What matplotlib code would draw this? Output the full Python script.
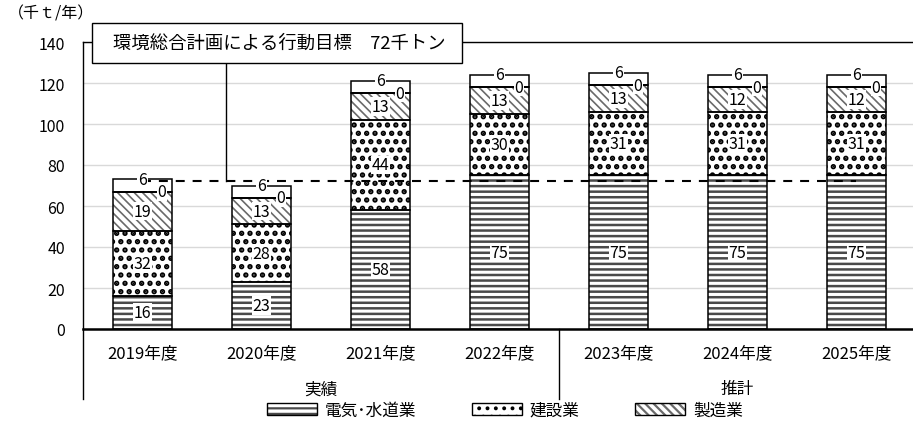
import matplotlib
matplotlib.use("Agg")
import matplotlib.pyplot as plt
from matplotlib.patches import Patch, Rectangle
from matplotlib.legend_handler import HandlerTuple
import numpy as np

plt.rcParams['font.family'] = ['Noto Sans CJK JP', 'DejaVu Sans']
plt.rcParams['hatch.linewidth'] = 1.6

# data (千t/年)
years = ["2019年度", "2020年度", "2021年度", "2022年度", "2023年度", "2024年度", "2025年度"]
denki = [16, 23, 58, 75, 75, 75, 75]       # 電気・水道業
kensetsu = [32, 28, 44, 30, 31, 31, 31]    # 建設業
seizo = [19, 13, 13, 13, 13, 12, 12]       # 製造業
zero_part = [0, 0, 0, 0, 0, 0, 0]
other = [6, 6, 6, 6, 6, 6, 6]
target = [72, 72, 72, 72, 72, 72, 72]
groups = ["実績", "推計"]
names = ["電気･水道業", "建設業", "製造業"]

x = np.arange(len(years))
w = 0.5

fig = plt.figure(figsize=(9.13, 4.27), dpi=100)
ax = fig.add_axes([83 / 913, 97 / 427, 830 / 913, 287 / 427])

# (hatch, hatch colour, hatch linewidth)
styles = [('---', '#4a4a4a', 1.8), ('..', 'black', 2.6), ('\\\\\\\\', '#6a6a6a', 1.2), ('', 'black', 1), ('', 'black', 1)]


def hatch_patch_lw(artists, lw):
    for a in artists:
        if hasattr(a, 'set_hatch_linewidth'):
            a.set_hatch_linewidth(lw)


bottom = np.zeros(len(x))
for vals, (hatch, hc, hlw) in zip([denki, kensetsu, seizo, zero_part, other], styles):
    vals = np.array(vals, dtype=float)
    with plt.rc_context({'hatch.linewidth': hlw}):
        bars = ax.bar(x, vals, w, bottom=bottom, color='white', edgecolor=hc, hatch=hatch, linewidth=0, zorder=2)
    hatch_patch_lw(bars, hlw)
    ax.bar(x, vals, w, bottom=bottom, facecolor='none', edgecolor='black', linewidth=1.1, zorder=3)
    bottom += vals

# value labels
lab = dict(ha='center', va='center', fontsize=11.5, zorder=6,
           bbox=dict(facecolor='white', edgecolor='none', pad=0.5))
b = np.zeros(len(x))
for vals in [denki, kensetsu, seizo]:
    for i, v in enumerate(vals):
        ax.text(x[i], b[i] + v / 2, str(v), **lab)
    b += np.array(vals)
for i in range(len(x)):
    ax.text(x[i] + 0.16, b[i] + zero_part[i], str(zero_part[i]), **lab)
    ax.text(x[i], b[i] + zero_part[i] + other[i], str(other[i]), **lab)

# target line
ax.plot(x, target, color='black', lw=1.5, linestyle=(0, (4.3, 3.8)), zorder=5)

ax.set_xlim(-0.5, 6.475)
ax.set_ylim(0, 140)
ax.set_yticks(range(0, 141, 20))
ax.set_xticks(x)
ax.set_xticklabels(years, fontsize=12)
ax.tick_params(axis='x', length=0, pad=11)
ax.tick_params(axis='y', length=0, labelsize=11.5, pad=13)
ax.yaxis.grid(True, color='#d9d9d9', lw=1)
ax.set_axisbelow(True)
ax.spines['right'].set_visible(False)
ax.spines['top'].set_linewidth(1.0)
ax.spines['left'].set_linewidth(1.0)
ax.spines['bottom'].set_linewidth(1.8)

# group separators and labels
xt = ax.get_xaxis_transform()
ax.plot([0, 0], [0, -0.244], transform=ax.transAxes, color='black', lw=1.0, clip_on=False)
ax.plot([3.5, 3.5], [0, -0.244], transform=xt, color='black', lw=1.0, clip_on=False)
ax.text(1.5, -0.209, groups[0], transform=xt, ha='center', va='center', fontsize=12)
ax.text(5.0, -0.209, groups[1], transform=xt, ha='center', va='center', fontsize=12)

# annotation box with leader line
ax.plot([0.70, 0.70], [129.8, 72], color='black', lw=1.0, zorder=4)
ax.add_patch(Rectangle((-0.424, 129.8), 3.109, 19.5, facecolor='white', edgecolor='black',
                       lw=1.0, zorder=7, clip_on=False))
ax.text(1.15, 139.4, "環境総合計画による行動目標　72千トン", ha='center', va='center',
        fontsize=13.2, zorder=8, clip_on=False)

fig.text(0.009, 0.968, "（千ｔ/年）", ha='left', va='center', fontsize=11.5)


# legend
def handle(hatch, hc, hlw):
    with plt.rc_context({'hatch.linewidth': hlw}):
        p = Patch(facecolor='white', edgecolor=hc, hatch=hatch, linewidth=0)
    hatch_patch_lw([p], hlw)
    return (p, Patch(facecolor='none', edgecolor='black', linewidth=1.0))


handles = [handle(*s) for s in styles[:3]]
fig.legend(handles, names, loc='center', bbox_to_anchor=(0.553, 0.037),
           ncol=3, frameon=False, fontsize=12, handlelength=3.0, handleheight=0.7,
           columnspacing=3.3, handletextpad=0.5,
           handler_map={tuple: HandlerTuple(ndivide=1)})

fig.savefig("out.png", dpi=100)
